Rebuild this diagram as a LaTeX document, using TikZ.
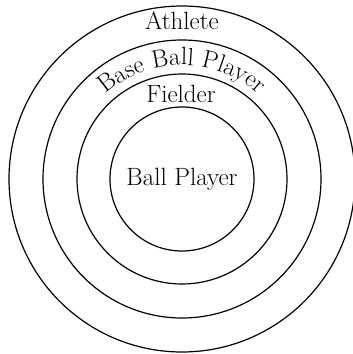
\documentclass[tikz,border=0pt]{standalone}
\usepackage{fontspec}
\usetikzlibrary{decorations.text}
\begin{document}
\begin{tikzpicture}[x=1pt, y=1pt,
  ring/.style={draw, circle, line width=1.2pt, inner sep=0pt},
  lbl/.style={font=\fontsize{25}{30}\selectfont, inner sep=0pt, anchor=base},
]
\useasboundingbox (0,0) rectangle (353,354);
\coordinate (c) at (182,175);
\node[ring, minimum size=346pt] (athlete) at (c) {};
\node[ring, minimum size=278pt] (baseball) at (c) {};
\node[ring, minimum size=210pt] (fielder) at (c) {};
\node[ring, minimum size=144pt] (ballplayer) at (c) {};
\node[lbl] (athleteText) at (182,324) {Athlete};
\node[lbl] (fielderText) at (181,251) {Fielder};
\node[lbl] (ballText) at (182,168) {Ball Player};
% curved label in the second ring
\path[decorate, decoration={text along path, text align=center,
    text={|\fontsize{25}{30}\selectfont|Base Ball Player}}]
  ([shift={(160:114pt)}]c) arc[start angle=160, end angle=20, radius=114pt];
\end{tikzpicture}
\end{document}
